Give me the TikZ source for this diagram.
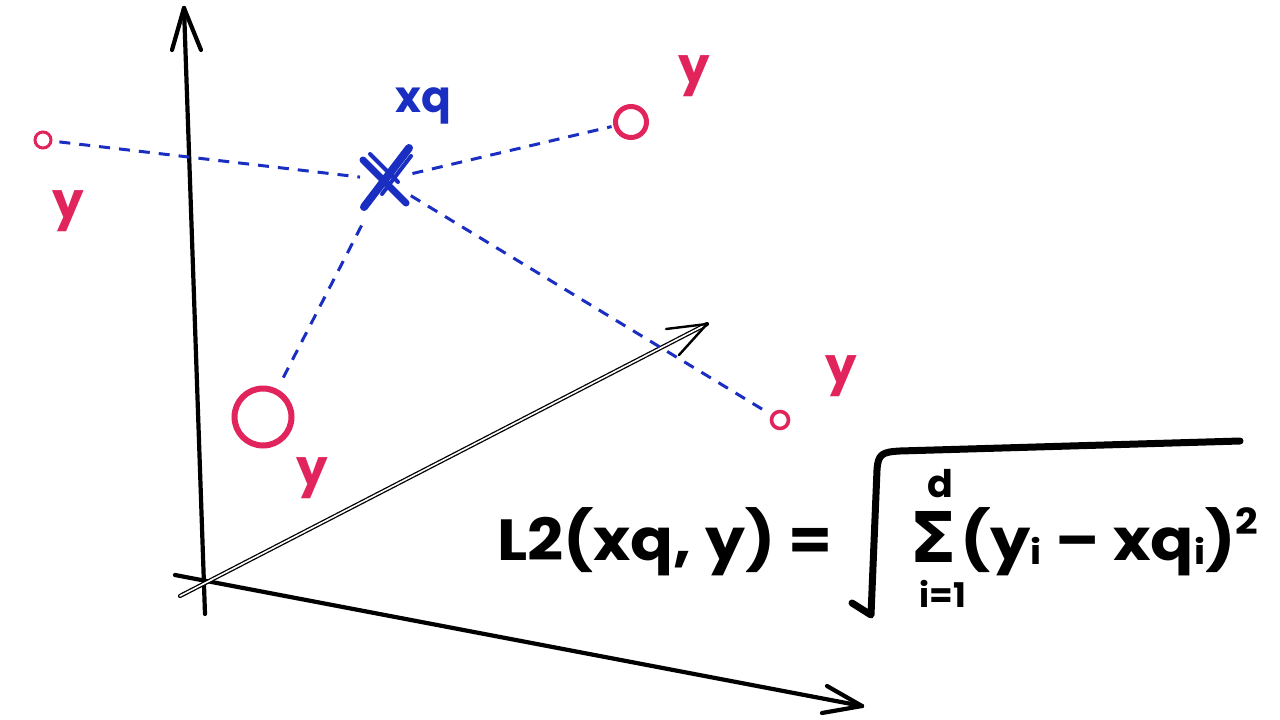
\documentclass[tikz,border=0pt]{standalone}
\usepackage{fontspec}
\setmainfont{Poppins}
\newfontfamily\djv{DejaVu Sans}
\definecolor{pk}{HTML}{E2245C}
\definecolor{bl}{HTML}{1A2FC2}
\begin{document}
\begin{tikzpicture}[x=1pt,y=-1pt,
  axis/.style={line width=4.2pt,black,line cap=round,line join=round},
  dbl/.style={line width=1.3pt,black,double=white,double distance=1.6pt,line cap=round},
  dsh/.style={line width=3pt,bl,dash pattern=on 11pt off 9pt},
  pt/.style={circle,draw=pk,inner sep=0pt},
  ylab/.style={text=pk,font=\bfseries\fontsize{50}{50}\selectfont,anchor=base,inner sep=0pt},
  frm/.style={font=\bfseries\fontsize{58}{58}\selectfont,anchor=base west,inner sep=0pt}]
\useasboundingbox[fill=white] (0,0) rectangle (1280,720);

% axes
\coordinate (vb) at (205,614); \coordinate (vt) at (184,8);
\draw[axis] (vb) -- (vt);
\draw[axis] (vt) -- ++(-12,42);
\draw[axis] (vt) -- ++(17,42);
\coordinate (hb) at (175,575); \coordinate (ht) at (862,706);
\draw[axis] (hb) -- (ht);
\draw[axis] (ht) -- ++(-35,-20);
\draw[axis] (ht) -- ++(-40,7);
\coordinate (db) at (180,596); \coordinate (dt) at (707,324);
\draw[dbl] (db) -- (dt);
\draw[line width=2.4pt,line cap=round] (dt) -- ++(-41,5);
\draw[line width=2.4pt,line cap=round] (dt) -- ++(-28,31);

% points
\node[pt,line width=3pt,minimum size=16pt] (p1) at (43,140) {};
\node[pt,line width=5pt,minimum size=31pt] (p2) at (631,122) {};
\node[pt,line width=3.6pt,minimum size=17pt] (p3) at (780,420) {};
\node[pt,line width=6pt,minimum size=57pt] (p4) at (263,417) {};
\node[ylab] (y1) at (68,218) {y};
\node[ylab] (y2) at (694,83) {y};
\node[ylab] (y3) at (841,383) {y};
\node[ylab] (y4) at (312,485) {y};

% query point
\node[circle,minimum size=50pt,inner sep=0pt] (xq) at (385,180) {};
\draw[bl,line width=8pt,line cap=round] (364,207) -- (409,148);
\draw[bl,line width=7pt,line cap=round] (363,160) -- (406,203);
\draw[bl,line width=4pt,line cap=round] (370,154) -- (398,182);
\draw[bl,line width=4pt,line cap=round] (382,194) -- (411,156);
\node[text=bl,font=\bfseries\fontsize{44}{44}\selectfont,anchor=base,inner sep=0pt] (xql) at (423,112) {xq};

% distances
\draw[dsh,shorten <=7pt] (p1) -- (xq);
\draw[dsh,shorten <=3pt,shorten >=2pt] (xq) -- (p2);
\draw[dsh,shorten <=5pt,shorten >=4pt] (xq) -- (p3);
\draw[dsh,shorten <=26pt,shorten >=9pt] (xq) -- (p4);

% formula
\node[frm] (lhs) at (497,560) {\scalebox{1.09}[1]{L2(xq, y) =}};
\draw[line width=7pt,line cap=round,line join=round]
  (852,603) -- (871,615) -- (877,470) .. controls (878,454) and (882,452) .. (900,451) -- (1240,441);
\node[font=\djv\bfseries\fontsize{70}{70}\selectfont,anchor=base,inner sep=0pt] (sig) at (933,562) {Σ};
\node[font=\bfseries\fontsize{38}{38}\selectfont,anchor=base,inner sep=0pt] (dd) at (940,497) {d};
\node[font=\bfseries\fontsize{34}{34}\selectfont,anchor=base,inner sep=0pt] (ii) at (943,607) {i=1};
\node[frm] (rhs) at (960,560) {\scalebox{1.1}[1]{(y\raisebox{-4pt}{\fontsize{34}{34}\selectfont i} – xq\raisebox{-4pt}{\fontsize{34}{34}\selectfont i})\raisebox{26pt}{\fontsize{36}{36}\selectfont 2}}};
\end{tikzpicture}
\end{document}
